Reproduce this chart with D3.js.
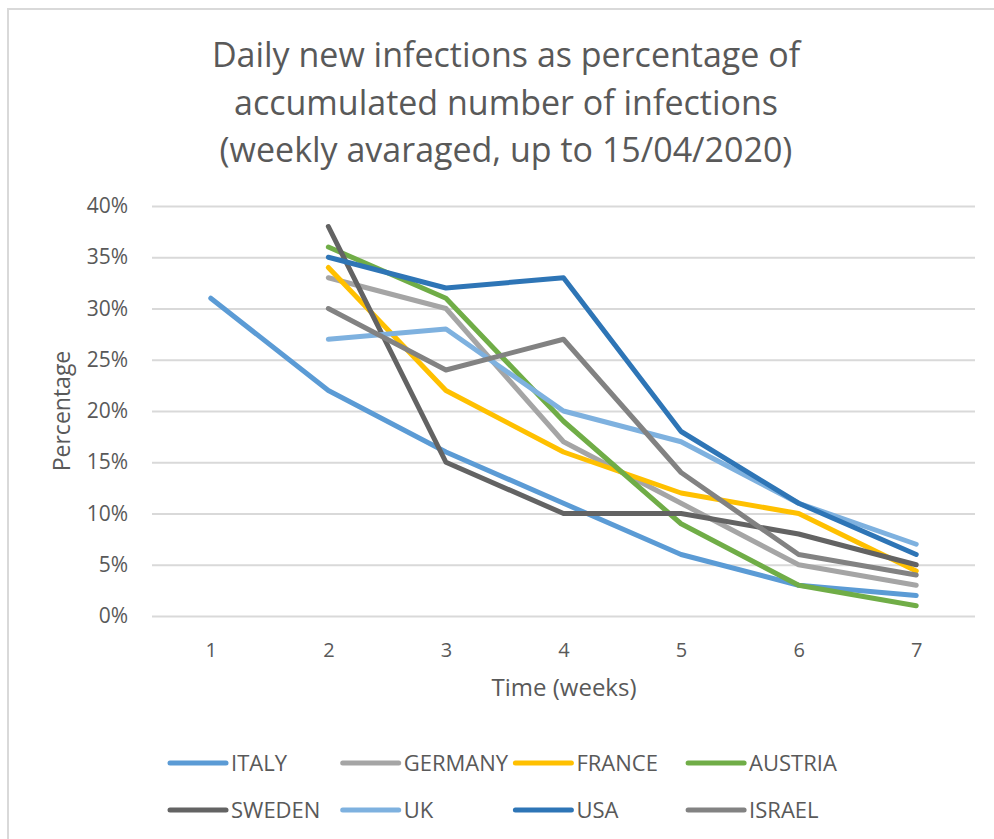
<!DOCTYPE html>
<html>
<head>
<meta charset="utf-8">
<script src="https://cdn.jsdelivr.net/npm/d3@7"></script>
<style>
  html, body { margin: 0; padding: 0; background: #fff; }
  svg text { font-family: "Open Sans", Lato, sans-serif; fill: #595959; }
</style>
</head>
<body>
<svg id="chart" width="994" height="839"></svg>
<script>
// ---- data ----
const weeks = ["1", "2", "3", "4", "5", "6", "7"];
const yTicks = [0, 0.05, 0.10, 0.15, 0.20, 0.25, 0.30, 0.35, 0.40];
const countries = ["ITALY", "GERMANY", "FRANCE", "AUSTRIA", "SWEDEN", "UK", "USA", "ISRAEL"];
const italy   = [31, 22, 16, 11, 6, 3, 2];
const germany = [null, 33, 30, 17, 11, 5, 3];
const france  = [null, 34, 22, 16, 12, 10, 4.4];
const austria = [null, 36, 31, 19, 9, 3, 1];
const sweden  = [null, 38, 15, 10, 10, 8, 5];
const uk      = [null, 27, 28, 20, 17, 11, 7];
const usa     = [null, 35, 32, 33, 18, 11, 6];
const israel  = [null, 30, 24, 27, 14, 6, 4];
const seriesValues = [italy, germany, france, austria, sweden, uk, usa, israel];
const colors = ["#5B9BD5", "#A5A5A5", "#FFC000", "#70AD47", "#636363", "#7EB1DF", "#2E75B6", "#828282"];
const titleLines = ["Daily new infections as percentage of", "accumulated number of infections", "(weekly avaraged, up to 15/04/2020)"];

// ---- layout ----
const svg = d3.select("#chart");
const plot = { left: 152, right: 975, top: 206, bottom: 616 };
const FONT = "'Open Sans', Lato, sans-serif";

// outer border
svg.append("rect")
  .attr("x", 8).attr("y", 9).attr("width", 1000).attr("height", 900)
  .attr("fill", "none").attr("stroke", "#d9d9d9").attr("stroke-width", 2);

// title
svg.append("g").selectAll("text").data(titleLines).join("text")
  .attr("x", 506).attr("y", (d, i) => 67 + i * 47.5)
  .attr("text-anchor", "middle")
  .style("font-size", "34px")
  .text(d => d);

const x = d3.scalePoint().domain(weeks).range([plot.left, plot.right]).padding(0.5);
const y = d3.scaleLinear().domain([0, 0.40]).range([plot.bottom, plot.top]);

// gridlines
const grid = svg.append("g")
  .attr("transform", `translate(${plot.left},0)`)
  .call(d3.axisLeft(y).tickValues(yTicks).tickSize(-(plot.right - plot.left)).tickFormat(""));
grid.select(".domain").remove();
grid.selectAll(".tick line").attr("stroke", "#d9d9d9").attr("stroke-width", 2);

// y axis labels
const yAxis = svg.append("g")
  .attr("transform", `translate(${plot.left - 10},0)`)
  .call(d3.axisLeft(y).tickValues(yTicks).tickSize(0).tickPadding(14).tickFormat(d3.format(".0%")));
yAxis.select(".domain").remove();
yAxis.selectAll("text").style("font-size", "21px").style("font-family", FONT).attr("fill", "#595959");

// x axis labels
const xAxis = svg.append("g")
  .attr("transform", `translate(0,${plot.bottom})`)
  .call(d3.axisBottom(x).tickSize(0).tickPadding(27));
xAxis.select(".domain").remove();
xAxis.selectAll("text").style("font-size", "20px").style("font-family", FONT).attr("fill", "#595959");

// axis titles
svg.append("text")
  .attr("x", 564).attr("y", 696)
  .attr("text-anchor", "middle")
  .style("font-size", "24px")
  .text("Time (weeks)");
svg.append("text")
  .attr("transform", "translate(70,411) rotate(-90)")
  .attr("text-anchor", "middle")
  .style("font-size", "23px")
  .text("Percentage");

// lines
const line = d3.line()
  .defined(d => d.v !== null)
  .x(d => x(d.w))
  .y(d => y(d.v / 100));

svg.append("g").selectAll("path")
  .data(seriesValues.map((vals, i) => ({ name: countries[i], color: colors[i], pts: vals.map((v, j) => ({ w: weeks[j], v })) })))
  .join("path")
  .attr("d", d => line(d.pts))
  .attr("fill", "none")
  .attr("stroke", d => d.color)
  .attr("stroke-width", 5)
  .attr("stroke-linejoin", "round")
  .attr("stroke-linecap", "round");

// legend
const legend = svg.append("g");
const lg = legend.selectAll("g").data(countries).join("g")
  .attr("transform", (d, i) => `translate(${170 + (i % 4) * 172.7},${763 + Math.floor(i / 4) * 47})`);
lg.append("line")
  .attr("x1", 0).attr("x2", 56).attr("y1", 0).attr("y2", 0)
  .attr("stroke", (d, i) => colors[i]).attr("stroke-width", 5).attr("stroke-linecap", "round");
lg.append("text")
  .attr("x", 61).attr("y", 0).attr("dy", "0.36em")
  .style("font-size", "22px")
  .text(d => d);
</script>
</body>
</html>
